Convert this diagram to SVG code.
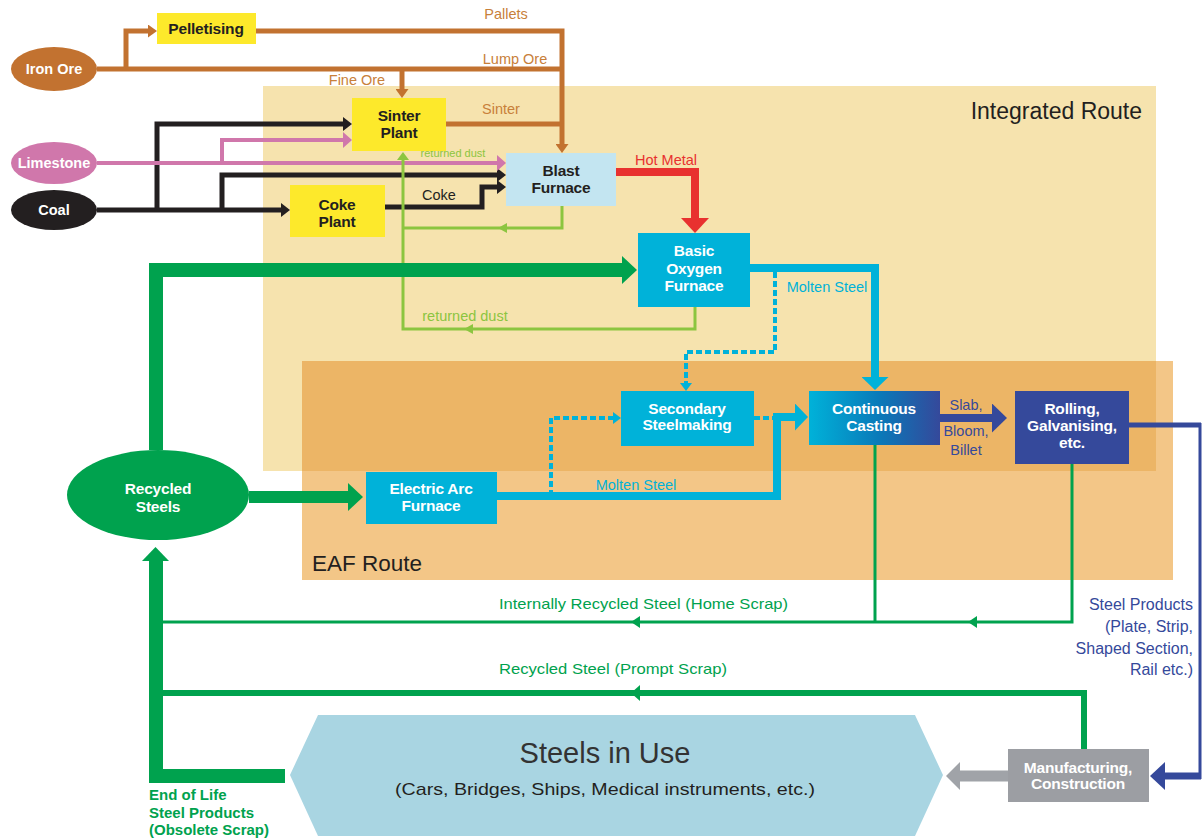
<svg xmlns="http://www.w3.org/2000/svg" width="1204" height="838" viewBox="0 0 1204 838">
<style>
text{font-family:"Liberation Sans",Arial,sans-serif}
.nt{font-size:15.5px;font-weight:bold;text-anchor:middle;letter-spacing:-0.2px}
.et{font-size:14.5px;font-weight:bold;text-anchor:middle}
.w{fill:#ffffff}
.k{fill:#231f20}
.lbl{font-size:14.5px;text-anchor:middle}
.br{stroke:#c27230;stroke-width:5;fill:none}
.bk{stroke:#231f20;stroke-width:5;fill:none}
.pk{stroke:#d077ab;stroke-width:4;fill:none}
.lg{stroke:#8cc540;stroke-width:3;fill:none}
.gr{stroke:#00a24e;fill:none}
.cy{stroke:#00b2d9;stroke-width:8;fill:none}
.cyd{stroke:#00b2d9;stroke-width:4;fill:none;stroke-dasharray:6 3}
.db{stroke:#35499b;fill:none}
.yel{fill:#fde92b}
.cyan{fill:#00b2d9}
</style>
<defs>
<linearGradient id="ccg" x1="0" y1="0" x2="1" y2="0">
<stop offset="0" stop-color="#00b2d9"/>
<stop offset="0.55" stop-color="#0a78b8"/>
<stop offset="1" stop-color="#35499b"/>
</linearGradient>
<marker id="aBr" markerUnits="userSpaceOnUse" viewBox="0 0 9 13" refX="0" refY="6.5" markerWidth="9" markerHeight="13" orient="auto"><path d="M0,0 L9,6.5 L0,13 z" fill="#c27230"/></marker>
<marker id="aBk" markerUnits="userSpaceOnUse" viewBox="0 0 9 14" refX="0" refY="7" markerWidth="9" markerHeight="14" orient="auto"><path d="M0,0 L9,7 L0,14 z" fill="#231f20"/></marker>
<marker id="aPk" markerUnits="userSpaceOnUse" viewBox="0 0 9 16" refX="0" refY="8" markerWidth="9" markerHeight="16" orient="auto"><path d="M0,0 L9,8 L0,16 z" fill="#d077ab"/></marker>
<marker id="aLg" markerUnits="userSpaceOnUse" viewBox="0 0 8 12" refX="0" refY="6" markerWidth="8" markerHeight="12" orient="auto"><path d="M0,0 L8,6 L0,12 z" fill="#8cc540"/></marker>
<marker id="aCy" markerUnits="userSpaceOnUse" viewBox="0 0 13 27" refX="0" refY="13.5" markerWidth="13" markerHeight="27" orient="auto"><path d="M0,0 L13,13.5 L0,27 z" fill="#00b2d9"/></marker>
<marker id="aCyS" markerUnits="userSpaceOnUse" viewBox="0 0 8 12" refX="0" refY="6" markerWidth="8" markerHeight="12" orient="auto"><path d="M0,0 L8,6 L0,12 z" fill="#00b2d9"/></marker>
<marker id="aDb" markerUnits="userSpaceOnUse" viewBox="0 0 15 29" refX="0" refY="14.5" markerWidth="15" markerHeight="29" orient="auto"><path d="M0,0 L15,14.5 L0,29 z" fill="#35499b"/></marker>
<marker id="aGr" markerUnits="userSpaceOnUse" viewBox="0 0 15 28" refX="0" refY="14" markerWidth="15" markerHeight="28" orient="auto"><path d="M0,0 L15,14 L0,28 z" fill="#00a24e"/></marker>
<marker id="aRd" markerUnits="userSpaceOnUse" viewBox="0 0 15 28" refX="0" refY="14" markerWidth="15" markerHeight="28" orient="auto"><path d="M0,0 L15,14 L0,28 z" fill="#e8312f"/></marker>
<marker id="aGy" markerUnits="userSpaceOnUse" viewBox="0 0 14 28" refX="0" refY="14" markerWidth="14" markerHeight="28" orient="auto"><path d="M0,0 L14,14 L0,28 z" fill="#a0a3a8"/></marker>
</defs>
<rect width="1204" height="838" fill="#ffffff"/>

<g id="routes">
<rect id="integrated-route" x="263" y="86" width="893" height="385" fill="#f6e3ae"/>
<rect id="eaf-route" x="302" y="361" width="871" height="219" fill="#f3c687"/>
<rect x="302" y="361" width="854" height="110" fill="#ecb566"/>
<text x="1142" y="119" font-size="23" text-anchor="end" class="k">Integrated Route</text>
<text x="312" y="571" font-size="22.5" class="k">EAF Route</text>
</g>

<g id="connectors">
<!-- brown -->
<path class="br" d="M97,69 H562"/>
<path class="br" d="M256,31 H562 V144" marker-end="url(#aBr)"/>
<path class="br" d="M126,69 V31 H148" marker-end="url(#aBr)"/>
<path class="br" d="M402,69 V89" marker-end="url(#aBr)"/>
<path class="br" d="M446,124 H562"/>
<!-- black -->
<path class="bk" d="M97,210 H281" marker-end="url(#aBk)"/>
<path class="bk" d="M157,210 V124 H343" marker-end="url(#aBk)"/>
<path class="bk" d="M222,210 V175 H497" marker-end="url(#aBk)"/>
<path class="bk" d="M385,207 H482 V187 H497" marker-end="url(#aBk)"/>
<!-- pink -->
<path class="pk" d="M97,163 H497" marker-end="url(#aPk)"/>
<path class="pk" d="M222,163 V140 H343" marker-end="url(#aPk)"/>
<!-- returned dust -->
<path class="lg" d="M562,206 V228 H403"/>
<path class="lg" d="M695,307 V329 H403 V160" marker-end="url(#aLg)"/>
<polygon points="498,228 507,223 507,233" fill="#8cc540"/>
<polygon points="464,329 473,324 473,334" fill="#8cc540"/>
<!-- hot metal -->
<path d="M616,172 H695 V218" stroke="#e8312f" stroke-width="8" fill="none" marker-end="url(#aRd)"/>
<!-- molten steel -->
<path class="cy" d="M750,268 H875 V377" marker-end="url(#aCy)"/>
<path class="cy" d="M497,496 H777 V417 H795" marker-end="url(#aCy)"/>
<path class="cyd" d="M551,496 V418 H613" marker-end="url(#aCyS)"/>
<path class="cyd" d="M754,418 H777"/>
<path class="cyd" d="M775,272 V352 H686 V383" marker-end="url(#aCyS)"/>
<!-- slab / products -->
<path class="db" stroke-width="8" d="M940,418 H992" marker-end="url(#aDb)"/>
<path class="db" stroke-width="5" d="M1129,425 H1201"/>
<path class="db" stroke-width="3" d="M1200,423 V779"/>
<path class="db" stroke-width="7" d="M1201,776 H1165"/>
<polygon points="1150,776 1165,762 1165,790" fill="#35499b"/>
<!-- recycled steel -->
<path class="gr" stroke-width="14" d="M156,450 V270 H622" marker-end="url(#aGr)"/>
<path class="gr" stroke-width="12" d="M249,497 H348" marker-end="url(#aGr)"/>
<path class="gr" stroke-width="14" d="M285,776 H156 V560"/>
<polygon points="155.5,547 142,561 169,561" fill="#00a24e"/>
<path class="gr" stroke-width="3" d="M875,445 V622"/>
<path class="gr" stroke-width="3" d="M1072,464 V622 H163"/>
<polygon points="631,622 640,616 640,628" fill="#00a24e"/>
<polygon points="968,622 977,616 977,628" fill="#00a24e"/>
<path class="gr" stroke-width="6" d="M1084,749 V693 H163"/>
<polygon points="631,693 640,685 640,701" fill="#00a24e"/>
<!-- manufacturing to use -->
<path d="M1008,776 H960" stroke="#a0a3a8" stroke-width="11" fill="none" marker-end="url(#aGy)"/>
</g>

<g id="labels">
<text x="506" y="19" class="lbl" fill="#c8803a">Pallets</text>
<text x="515" y="64" class="lbl" fill="#c8803a">Lump Ore</text>
<text x="357" y="85" class="lbl" fill="#c8803a">Fine Ore</text>
<text x="501" y="114" class="lbl" fill="#c8803a">Sinter</text>
<text x="453" y="157" text-anchor="middle" font-size="11" fill="#8cc540">returned dust</text>
<text x="439" y="200" class="lbl k" font-size="15.5">Coke</text>
<text x="666" y="165" class="lbl" fill="#e8312f">Hot Metal</text>
<text x="827" y="292" class="lbl" fill="#00b2d9">Molten Steel</text>
<text x="465" y="321" class="lbl" fill="#8cc540">returned dust</text>
<text x="636" y="490" class="lbl" fill="#00b2d9">Molten Steel</text>
<text x="966" y="410" class="lbl" fill="#35499b">Slab,</text>
<text x="966" y="436" class="lbl" fill="#35499b">Bloom,</text>
<text x="966" y="455" class="lbl" fill="#35499b">Billet</text>
<text x="499" y="609" font-size="15" fill="#00a24e" textLength="289" lengthAdjust="spacingAndGlyphs">Internally Recycled Steel (Home Scrap)</text>
<text x="499" y="674" font-size="15" fill="#00a24e" textLength="228" lengthAdjust="spacingAndGlyphs">Recycled Steel (Prompt Scrap)</text>
<g font-size="16" fill="#35499b" text-anchor="end">
<text x="1193" y="610">Steel Products</text>
<text x="1193" y="632">(Plate, Strip,</text>
<text x="1193" y="654">Shaped Section,</text>
<text x="1193" y="675">Rail etc.)</text>
</g>
<g font-size="15" font-weight="bold" fill="#00a24e">
<text x="149" y="800">End of Life</text>
<text x="149" y="818">Steel Products</text>
<text x="149" y="835">(Obsolete Scrap)</text>
</g>
</g>

<g id="iron-ore"><ellipse cx="54" cy="69" rx="43" ry="22" fill="#c27230"/><text class="et w" x="54" y="74">Iron Ore</text></g>
<g id="limestone"><ellipse cx="54" cy="163" rx="43" ry="21" fill="#d077ab"/><text class="et w" x="54" y="168">Limestone</text></g>
<g id="coal"><ellipse cx="54" cy="210" rx="43" ry="20" fill="#231f20"/><text class="et w" x="54" y="215">Coal</text></g>
<g id="pelletising"><rect class="yel" x="157" y="13" width="99" height="31"/><text class="nt k" x="206" y="34">Pelletising</text></g>
<g id="sinter-plant"><rect class="yel" x="352" y="98" width="94" height="53"/><text class="nt k" x="399" y="121">Sinter</text><text class="nt k" x="399" y="138">Plant</text></g>
<g id="coke-plant"><rect class="yel" x="290" y="185" width="95" height="52"/><text class="nt k" x="337" y="210">Coke</text><text class="nt k" x="337" y="227">Plant</text></g>
<g id="blast-furnace"><rect x="506" y="153" width="110" height="53" fill="#c3e5f1"/><text class="nt k" x="561" y="176">Blast</text><text class="nt k" x="561" y="193">Furnace</text></g>
<g id="bof"><rect class="cyan" x="638" y="233" width="112" height="74"/><text class="nt w" x="694" y="256">Basic</text><text class="nt w" x="694" y="274">Oxygen</text><text class="nt w" x="694" y="291">Furnace</text></g>
<g id="secondary-steelmaking"><rect class="cyan" x="621" y="391" width="133" height="55"/><text class="nt w" x="687" y="414">Secondary</text><text class="nt w" x="687" y="430">Steelmaking</text></g>
<g id="eaf"><rect class="cyan" x="366" y="472" width="131" height="52"/><text class="nt w" x="431" y="494">Electric Arc</text><text class="nt w" x="431" y="511">Furnace</text></g>
<g id="continuous-casting"><rect x="809" y="391" width="131" height="54" fill="url(#ccg)"/><text class="nt w" x="874" y="414">Continuous</text><text class="nt w" x="874" y="431">Casting</text></g>
<g id="rolling"><rect x="1015" y="391" width="114" height="73" fill="#35499b"/><text class="nt w" x="1072" y="414">Rolling,</text><text class="nt w" x="1072" y="431">Galvanising,</text><text class="nt w" x="1072" y="448">etc.</text></g>
<g id="recycled-steels"><ellipse cx="158" cy="495" rx="91" ry="45" fill="#00a24e"/><text class="nt w" x="158" y="494">Recycled</text><text class="nt w" x="158" y="512">Steels</text></g>
<g id="manufacturing"><rect x="1008" y="749" width="141" height="53" fill="#9c9ea3"/><text class="nt w" x="1078" y="773">Manufacturing,</text><text class="nt w" x="1078" y="789">Construction</text></g>
<g id="steels-in-use"><polygon points="290,775 318,715 915,715 943,775 915,836 318,836" fill="#a9d5e2"/><text x="605" y="763" font-size="29" text-anchor="middle" fill="#333333">Steels in Use</text><text x="605" y="795" font-size="17" text-anchor="middle" fill="#231f20" textLength="420" lengthAdjust="spacingAndGlyphs">(Cars, Bridges, Ships, Medical instruments, etc.)</text></g>
</svg>
